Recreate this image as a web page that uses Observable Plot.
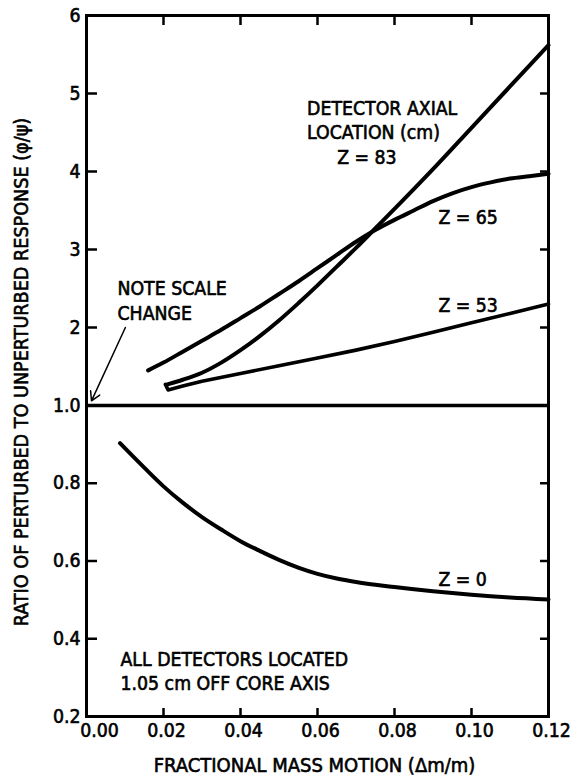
<!DOCTYPE html>
<html>
<head>
<meta charset="utf-8">
<script src="https://cdn.jsdelivr.net/npm/d3@7"></script>
<script src="https://cdn.jsdelivr.net/npm/@observablehq/plot@0.6"></script>
<style>
  html, body { margin: 0; padding: 0; background: #fff; }
</style>
</head>
<body>
<div id="chart"></div>
<script>
// ---- data ----
const z83x = [0.021, 0.025, 0.030, 0.035, 0.040, 0.045, 0.050, 0.055, 0.060, 0.065, 0.070, 0.075, 0.080, 0.090, 0.100, 0.110, 0.120];
const z83y = [1.27, 1.33, 1.42, 1.55, 1.71, 1.89, 2.09, 2.31, 2.54, 2.78, 3.02, 3.27, 3.52, 4.03, 4.56, 5.09, 5.62];

const z65x = [0.016, 0.020, 0.025, 0.030, 0.035, 0.040, 0.045, 0.050, 0.055, 0.060, 0.065, 0.070, 0.075, 0.080, 0.085, 0.090, 0.095, 0.100, 0.105, 0.110, 0.115, 0.120];
const z65y = [1.45, 1.55, 1.69, 1.83, 1.97, 2.12, 2.27, 2.43, 2.59, 2.76, 2.93, 3.10, 3.25, 3.38, 3.50, 3.62, 3.72, 3.80, 3.86, 3.91, 3.94, 3.97];

const z53x = [0.0205, 0.0212, 0.025, 0.030, 0.040, 0.050, 0.060, 0.070, 0.080, 0.090, 0.100, 0.110, 0.120];
const z53y = [1.27, 1.20, 1.25, 1.31, 1.41, 1.51, 1.61, 1.71, 1.82, 1.94, 2.06, 2.18, 2.30];

const z0x = [0.0087, 0.015, 0.020, 0.025, 0.030, 0.035, 0.040, 0.045, 0.050, 0.055, 0.060, 0.065, 0.070, 0.080, 0.090, 0.100, 0.110, 0.120];
const z0y = [0.903, 0.840, 0.792, 0.750, 0.713, 0.681, 0.651, 0.626, 0.603, 0.583, 0.567, 0.555, 0.546, 0.533, 0.522, 0.513, 0.506, 0.501];

const xTicks = [0.00, 0.02, 0.04, 0.06, 0.08, 0.10, 0.12];
const xTickLabels = ["0.00", "0.02", "0.04", "0.06", "0.08", "0.10", "0.12"];
const yTicks = [0.2, 0.4, 0.6, 0.8, 1.0, 2, 3, 4, 5, 6];
const yTickLabels = ["0.2", "0.4", "0.6", "0.8", "1.0", "2", "3", "4", "5", "6"];
const xInnerTicks = [0.02, 0.04, 0.06, 0.08, 0.10];
const yInnerTicks = [0.4, 0.6, 0.8, 2, 3, 4, 5];

const xLabel = "FRACTIONAL MASS MOTION (Δm/m)";
const yLabel = "RATIO OF PERTURBED TO UNPERTURBED RESPONSE (φ/ψ)";

const notes = [
  {x: 0.00805, y: 2.49, text: "NOTE SCALE"},
  {x: 0.00805, y: 2.17, text: "CHANGE"},
  {x: 0.0573, y: 4.81, text: "DETECTOR AXIAL"},
  {x: 0.0573, y: 4.49, text: "LOCATION (cm)"},
  {x: 0.0651, y: 4.17, text: "Z = 83"},
  {x: 0.0914, y: 3.41, text: "Z = 65"},
  {x: 0.0914, y: 2.28, text: "Z = 53"},
  {x: 0.0914, y: 0.551, text: "Z = 0"},
  {x: 0.00883, y: 0.346, text: "ALL DETECTORS LOCATED"},
  {x: 0.00883, y: 0.283, text: "1.05 cm OFF CORE AXIS"}
];
const arrowData = [{x1: 0.0101, y1: 2.0, x2: 0.0013, y2: 1.06}];

// ---- build series ----
const toPts = (xs, ys) => xs.map((x, i) => ({x, y: ys[i]}));
const s83 = toPts(z83x, z83y);
const s65 = toPts(z65x, z65y);
const s53 = toPts(z53x, z53y);
const s0 = toPts(z0x, z0y);
const xt = xTicks.map((v, i) => ({v, t: xTickLabels[i]}));
const yt = yTicks.map((v, i) => ({v, t: yTickLabels[i]}));

const FONT = '"DejaVu Sans Condensed", "DejaVu Sans", sans-serif';
const W = 574, H = 777, ML = 86, MR = 26, MT = 15, MB = 61;
const FW = W - ML - MR, FH = H - MT - MB;
const txt = {fontSize: 19.3, fontWeight: "normal", fill: "black", stroke: "black", strokeWidth: 0.6};

const lineOpts = {x: "x", y: "y", stroke: "black", strokeWidth: 4, curve: "monotone-x", strokeLinecap: "round", strokeLinejoin: "round"};

const chart = Plot.plot({
  width: W,
  height: H,
  marginLeft: ML,
  marginRight: MR,
  marginTop: MT,
  marginBottom: MB,
  style: {fontFamily: FONT, background: "white", color: "black"},
  x: {domain: [0, 0.12], axis: null},
  y: {type: "linear", domain: [0.2, 1, 6], range: [MT + FH, 405, MT], axis: null},
  marks: [
    Plot.frame({stroke: "black", strokeWidth: 3}),
    Plot.ruleY([1], {stroke: "black", strokeWidth: 3.5}),
    // inward ticks
    Plot.tickY(yInnerTicks, {y: d => d, stroke: "black", strokeWidth: 2.5, insetRight: FW - 11}),
    Plot.tickY(yInnerTicks, {y: d => d, stroke: "black", strokeWidth: 2.5, insetLeft: FW - 8}),
    Plot.tickX(xInnerTicks, {x: d => d, stroke: "black", strokeWidth: 2.5, insetTop: FH - 8}),
    Plot.tickX(xInnerTicks, {x: d => d, stroke: "black", strokeWidth: 2.5, insetBottom: FH - 10}),
    // curves
    Plot.line(s83, lineOpts),
    Plot.line(s65, lineOpts),
    Plot.line(s53, {...lineOpts, strokeWidth: 3.6, curve: "linear"}),
    Plot.line(s0, lineOpts),
    // arrow
    Plot.arrow(arrowData, {x1: "x1", y1: "y1", x2: "x2", y2: "y2", stroke: "black", strokeWidth: 1.5, headLength: 10}),
    // tick labels
    Plot.text(yt, {y: "v", text: "t", frameAnchor: "left", textAnchor: "end", lineAnchor: "middle", dx: -6, ...txt}),
    Plot.text(xt.filter(d => d.v > 0), {x: "v", text: "t", frameAnchor: "bottom", lineAnchor: "middle", textAnchor: "middle", dx: 3, dy: 14, ...txt}),
    Plot.text(xt.filter(d => d.v === 0), {x: "v", text: "t", frameAnchor: "bottom", lineAnchor: "middle", textAnchor: "middle", dx: 13, dy: 14, ...txt}),
    // axis titles
    Plot.text([xLabel], {text: d => d, frameAnchor: "bottom", lineAnchor: "middle", textAnchor: "middle", dx: -3, dy: 49, ...txt, fontSize: 20}),
    Plot.text([yLabel], {text: d => d, frameAnchor: "left", textAnchor: "middle", lineAnchor: "middle", rotate: -90, dx: -65, dy: 6, ...txt, fontSize: 19.6}),
    // annotations
    Plot.text(notes, {x: "x", y: "y", text: "text", textAnchor: "start", lineAnchor: "middle", ...txt})
  ]
});
document.getElementById("chart").appendChild(chart);
</script>
</body>
</html>
